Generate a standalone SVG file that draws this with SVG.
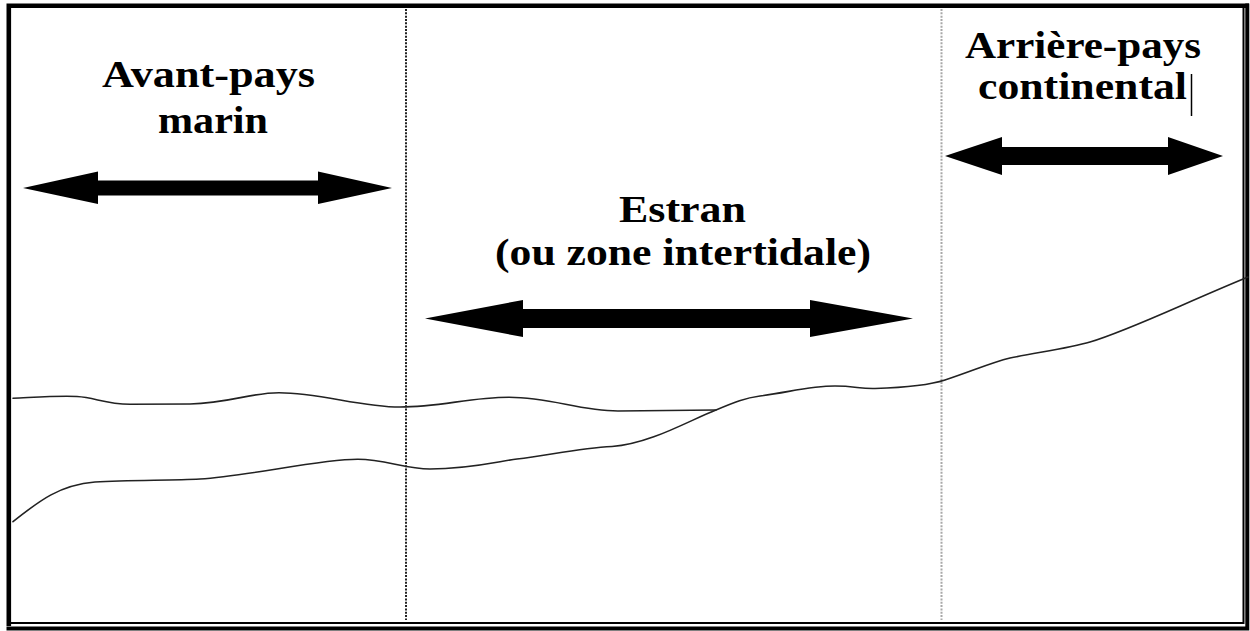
<svg xmlns="http://www.w3.org/2000/svg" width="1250" height="631" viewBox="0 0 1250 631">
  <style>
    .lbl { font-family: "Liberation Serif", "Times New Roman", serif; font-weight: bold; font-size: 38px; fill: #000; }
    .arrow { fill: #000; stroke: none; }
    .profile { fill: none; stroke: #222; stroke-width: 1.6; stroke-linejoin: round; stroke-linecap: round; }
    .bound-dark { stroke: #222; stroke-width: 2; stroke-dasharray: 2 1.33; }
    .bound-light { stroke: #a8a8a8; stroke-width: 2; stroke-dasharray: 2 1.33; }
    .frame { fill: none; stroke: #000; }
  </style>
  <rect x="0" y="0" width="1250" height="631" fill="#fff"/>

  <g id="frame">
    <rect class="frame" x="8.5" y="5.5" width="1235" height="617.5" stroke-width="2"/>
    <path class="frame" d="M8.8,626 V5.8 H1249" stroke-width="4.6"/>
    <path class="frame" d="M1247.3,3.5 V628.5 H6.5" stroke-width="4"/>
  </g>

  <g id="boundaries">
    <line class="bound-dark" x1="406" y1="9" x2="406" y2="620"/>
    <line class="bound-light" x1="941.5" y1="9" x2="941.5" y2="620"/>
  </g>

  <g id="profiles">
    <path id="upper-profile" class="profile" d="M13,398.3 C40,397 60,395.5 77,396.5 C95,397.5 105,404 130,404.3 L190,404 C230,403 250,392.7 279,392.7 C320,392.7 360,407 400,407 C440,407 470,397.3 509,397.3 C552,397.3 578,411 618,411 L716,410"/>
    <path id="lower-profile" class="profile" d="M13,521.7 C40,500 60,485 95,482 C130,480 170,480.5 200,479 C250,476 320,459 358,459.3 C385,459.5 405,469 430,469 C470,469 500,461 517,459 C550,455 580,448 612,446.5 C650,444 690,420 716,410 C735,402 745,398 760,396 C790,392 810,386 835,386 C855,386 860,389 875,388.5 C905,387.5 930,385 945,380 C975,370 990,363 1010,358 C1040,352 1070,348 1090,342 C1130,330 1180,305 1248,277"/>
  </g>

  <g id="zone-avant-pays">
    <text class="lbl" x="102" y="87" textLength="213" lengthAdjust="spacingAndGlyphs">Avant-pays</text>
    <text class="lbl" x="158" y="133" textLength="110" lengthAdjust="spacingAndGlyphs">marin</text>
  </g>

  <g id="zone-estran">
    <text class="lbl" x="619" y="222" textLength="127" lengthAdjust="spacingAndGlyphs">Estran</text>
    <text class="lbl" x="495" y="265" textLength="376" lengthAdjust="spacingAndGlyphs">(ou zone intertidale)</text>
  </g>

  <g id="zone-arriere-pays">
    <text class="lbl" x="965" y="58" textLength="236" lengthAdjust="spacingAndGlyphs">Arrière-pays</text>
    <text class="lbl" x="978" y="99" textLength="209" lengthAdjust="spacingAndGlyphs">continental</text>
    <line x1="1191.5" y1="74" x2="1191.5" y2="116" stroke="#000" stroke-width="1.5"/>
  </g>

  <g id="connectors">
    <polygon class="arrow" points="23,188 98,171.5 98,180.5 318,180.5 318,171.5 392,188 318,204 318,195.5 98,195.5 98,204"/>
    <polygon class="arrow" points="425,318.5 523,300 523,309 810,309 810,300 913,318.5 810,337 810,328 523,328 523,337"/>
    <polygon class="arrow" points="945,156 1002,137 1002,147 1168,147 1168,137 1223,156 1168,175 1168,165 1002,165 1002,175"/>
  </g>
</svg>
